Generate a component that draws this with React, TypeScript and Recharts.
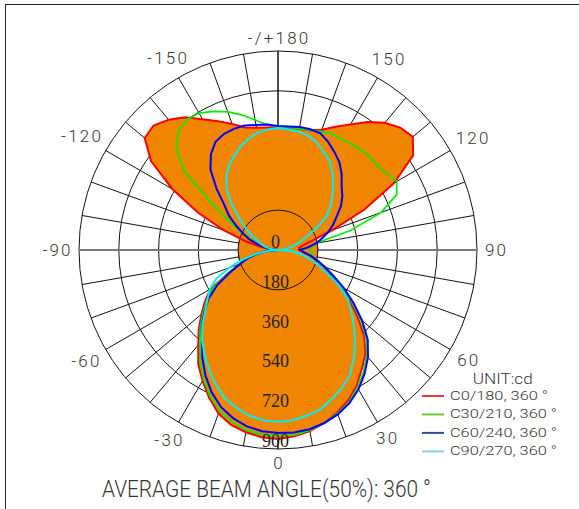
import React from "react";
import { PolarAngleAxis, PolarGrid, PolarRadiusAxis, Radar, RadarChart } from "recharts";

// gamma angle, 0 = straight down, counter-clockwise on screen, negatives on the left
const gammaAngles = [
  0, 5, 10, 15, 20, 25, 30, 35, 40, 45, 50, 55, 60, 65, 70, 75, 80, 85, 90, 95, 100, 105, 110, 115, 120, 125, 130, 135,
  140, 145, 150, 155, 160, 165, 170, 175, 180, -175, -170, -165, -160, -155, -150, -145, -140, -135, -130, -125, -120,
  -115, -110, -105, -100, -95, -90, -85, -80, -75, -70, -65, -60, -55, -50, -45, -40, -35, -30, -25, -20, -15, -10, -5
];

// candela per gamma angle
const c0 = [
  855, 846, 832, 810, 782, 751, 710, 660, 615, 552, 470, 393, 326, 262, 217, 181, 149, 118, 99, 95, 113, 158, 262, 430,
  606, 746, 796, 782, 751, 706, 656, 615, 579, 561, 556, 556, 556, 556, 561, 574, 606, 642, 683, 733, 769, 796, 787, 701,
  552, 398, 262, 149, 77, 36, 0, 50, 99, 149, 181, 249, 353, 403, 452, 507, 561, 629, 683, 737, 787, 819, 837, 850
];
const c30 = [
  841, 841, 828, 810, 787, 760, 719, 674, 624, 565, 488, 407, 335, 271, 222, 185, 163, 149, 145, 154, 167, 339, 497, 592,
  620, 602, 588, 592, 588, 583, 579, 579, 570, 561, 556, 556, 556, 570, 597, 633, 665, 692, 715, 719, 701, 651, 552, 362,
  249, 172, 122, 77, 41, 18, 0, 45, 95, 145, 185, 249, 335, 393, 443, 497, 547, 615, 674, 728, 773, 805, 828, 837
];
const c60 = [
  828, 828, 823, 810, 791, 764, 728, 683, 633, 574, 497, 416, 344, 276, 226, 185, 149, 118, 99, 136, 176, 208, 244, 276,
  308, 348, 380, 407, 448, 484, 511, 538, 561, 565, 565, 561, 561, 570, 574, 583, 583, 579, 565, 529, 475, 393, 317, 271,
  217, 172, 136, 86, 50, 23, 0, 45, 90, 140, 181, 240, 317, 384, 434, 488, 534, 597, 656, 710, 755, 787, 810, 823
];
const c90 = [
  778, 773, 760, 746, 715, 687, 651, 597, 543, 484, 434, 384, 317, 240, 190, 145, 99, 54, 0, 23, 45, 72, 104, 145, 204,
  271, 312, 348, 389, 430, 466, 488, 516, 534, 543, 547, 552, 547, 538, 520, 497, 470, 443, 407, 362, 298, 235, 185, 145,
  104, 86, 63, 41, 18, 0, 45, 99, 167, 235, 308, 357, 389, 430, 484, 534, 579, 624, 669, 710, 737, 760, 773
];

const radiusTicks = [0, 180, 360, 540, 720, 900];
const angleLabels = [0, 30, 60, 90, 120, 150, 180, -150, -120, -90, -60, -30];

const legendItems = [
  { name: "C0/180, 360 °", color: "#ee3333", width: 98 },
  { name: "C30/210, 360 °", color: "#66cc33", width: 107 },
  { name: "C60/240, 360 °", color: "#2a4f9a", width: 107 },
  { name: "C90/270, 360 °", color: "#88d4e0", width: 107 }
];

const data = gammaAngles.map((angle, i) => ({ angle, c0: c0[i], c30: c30[i], c60: c60[i], c90: c90[i] }));

const W = 579;
const H = 509;
const CX = 278;
const CY = 250;
const R = 199;
const ORANGE = "#ef8500";
const TEXT = "#353535";
const SANS = "Roboto, 'Noto Sans', sans-serif";
const LS = 2.2;

// the radar vertices land one band (360/72) counter-clockwise of startAngle, so start 5° earlier
const START = -95;

const spokeAngles = Array.from({ length: 36 }, (_, k) => -90 + k * 10);

function AngleTick(props: any) {
  const v = props.payload?.value;
  if (!angleLabels.includes(v)) return <g />;
  const label = v === 180 ? "-/+180" : String(v);
  const digits = label.replace(/[^0-9]/g, "").length;
  const w = digits * 11.5 + (v < 0 ? 8 : 0) - 1;
  const ux = Math.sin((v * Math.PI) / 180);
  const uy = Math.cos((v * Math.PI) / 180);
  const r = 206.5 + (w / 2) * Math.abs(ux) + 6 * Math.abs(uy);
  return (
    <text
      x={CX + r * ux + LS / 2}
      y={CY + r * uy + 6}
      textAnchor="middle"
      fontFamily={SANS}
      fontWeight={300}
      fontSize={17}
      letterSpacing={LS}
      fill={TEXT}
    >
      {label}
    </text>
  );
}

function RadiusTick(props: any) {
  const { x, y, payload } = props;
  return (
    <text x={x - 2.5} y={y - 2} textAnchor="middle" fontFamily="'Liberation Serif', serif" fontSize={18} fill="#222">
      {payload.value}
    </text>
  );
}

export default function App() {
  return (
    <div style={{ position: "relative", width: W, height: H, overflow: "hidden", background: "#fff" }}>
      <style>{"body{margin:0}"}</style>
      <div
        style={{
          position: "absolute",
          left: 5,
          top: 4,
          width: 700,
          height: 700,
          borderLeft: "1px solid #222",
          borderTop: "1px solid #222"
        }}
      />
      <div style={{ position: "absolute", left: 0, top: 0 }}>
        <RadarChart
          width={W}
          height={H}
          data={data}
          cx={CX}
          cy={CY}
          outerRadius={R}
          startAngle={START}
          endAngle={START + 360}
          margin={{ top: 0, right: 0, bottom: 0, left: 0 }}
        >
          <Radar dataKey="c0" fill={ORANGE} fillOpacity={1} stroke="none" isAnimationActive={false} />
          <PolarGrid gridType="circle" polarAngles={spokeAngles} stroke="#111" strokeWidth={1} />
          <Radar
            dataKey={() => radiusTicks[1]}
            fill={ORANGE}
            fillOpacity={1}
            stroke="#111"
            strokeWidth={1}
            isAnimationActive={false}
          />
          <PolarGrid gridType="circle" polarRadius={[]} polarAngles={[90, -90]} stroke="#111" strokeWidth={1} />
          <PolarGrid gridType="circle" polarRadius={[]} polarAngles={[0, 180]} stroke="#7a7a7a" strokeWidth={2} />
          <Radar dataKey="c0" fill="none" stroke="#ff0000" strokeWidth={2} isAnimationActive={false} />
          <Radar dataKey="c30" fill="none" stroke="#00ee00" strokeWidth={1.7} isAnimationActive={false} />
          <Radar dataKey="c60" fill="none" stroke="#0000ff" strokeWidth={2} isAnimationActive={false} />
          <Radar dataKey="c90" fill="none" stroke="#00f0f0" strokeWidth={2} isAnimationActive={false} />
          <PolarAngleAxis dataKey="angle" tick={AngleTick} axisLine={false} tickLine={false} />
          <PolarRadiusAxis
            angle={-90}
            type="number"
            domain={[0, 900]}
            ticks={radiusTicks}
            axisLine={false}
            tick={RadiusTick}
          />
        </RadarChart>
      </div>
      <svg width={W} height={H} style={{ position: "absolute", left: 0, top: 0, pointerEvents: "none" }}>
        <text
          x={472.7}
          y={383.5}
          fontFamily={SANS}
          fontWeight={300}
          fontSize={14.5}
          fill={TEXT}
          textLength={60}
          lengthAdjust="spacingAndGlyphs"
        >
          UNIT:cd
        </text>
        {legendItems.map((item, i) => {
          const ly = 396 + i * 18.45;
          return (
            <g key={item.name}>
              <line x1={422} x2={444} y1={ly} y2={ly} stroke={item.color} strokeWidth={2} />
              <text
                x={450}
                y={ly + 3.8}
                fontFamily={SANS}
                fontWeight={300}
                fontSize={13}
                fill={TEXT}
                textLength={item.width}
                lengthAdjust="spacingAndGlyphs"
              >
                {item.name}
              </text>
            </g>
          );
        })}
        <text
          x={266.5}
          y={497}
          textAnchor="middle"
          fontFamily={SANS}
          fontWeight={300}
          fontSize={23}
          fill={TEXT}
          textLength={329}
          lengthAdjust="spacingAndGlyphs"
        >
          AVERAGE BEAM ANGLE(50%): 360 °
        </text>
      </svg>
    </div>
  );
}
